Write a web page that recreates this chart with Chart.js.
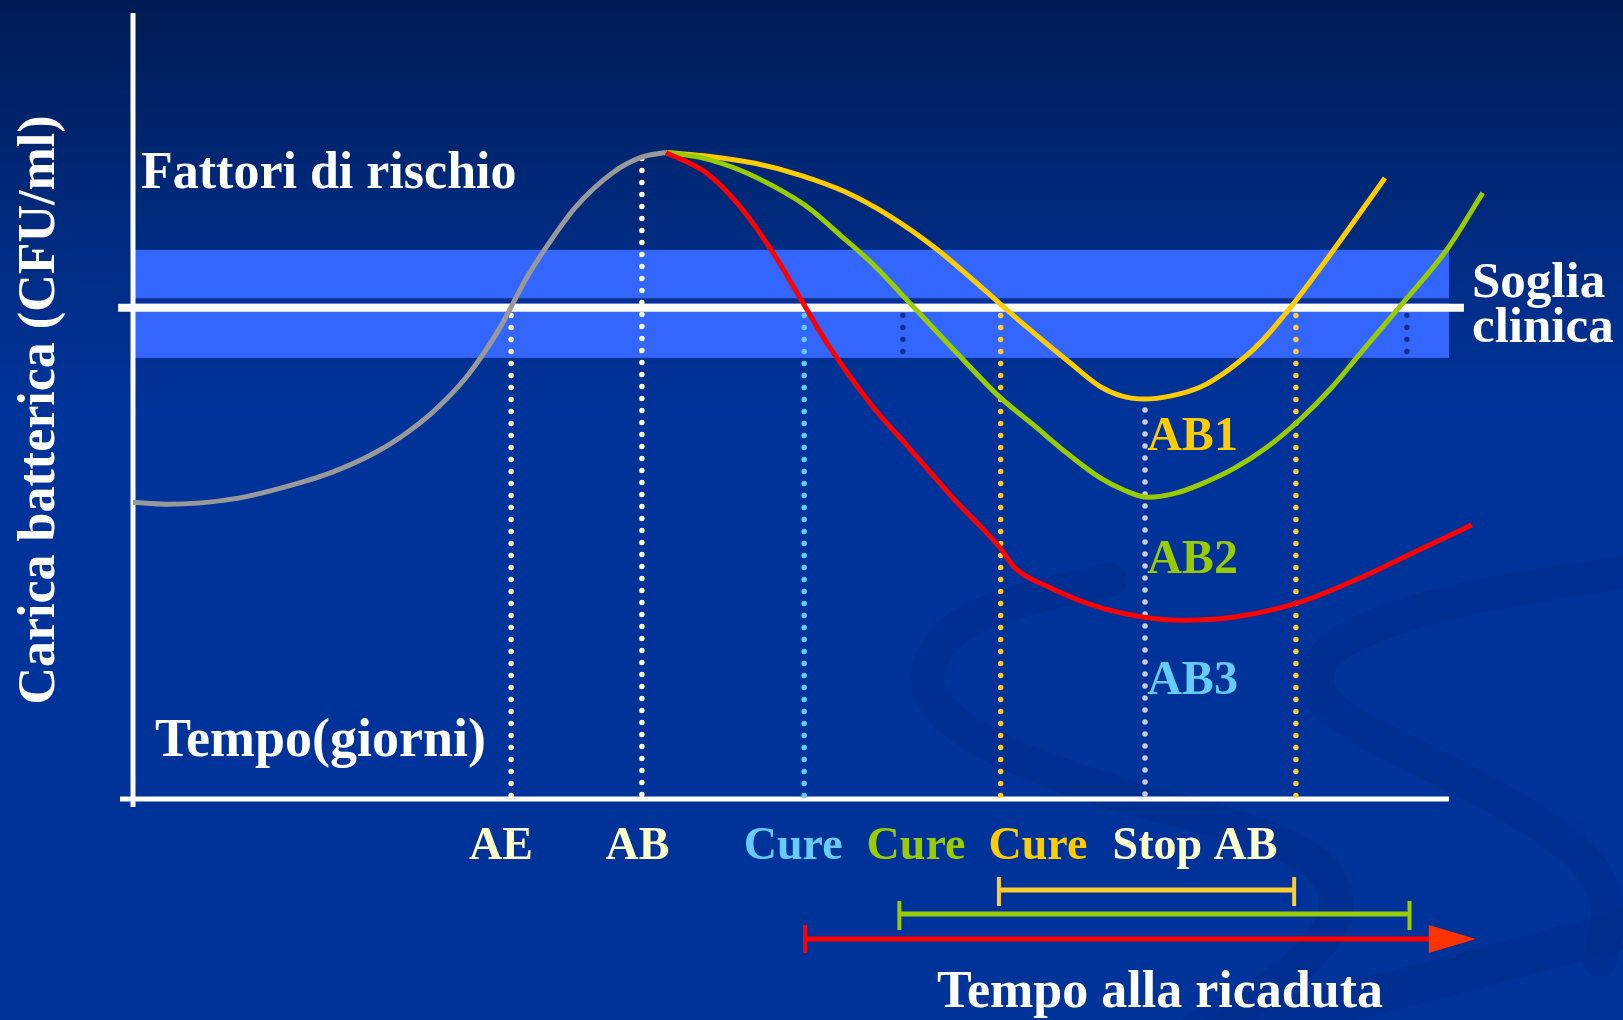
<!DOCTYPE html>
<html lang="it">
<head>
<meta charset="UTF-8">
<title>Carica batterica • Tempo alla ricaduta</title>
<script src="https://cdn.jsdelivr.net/npm/chart.js"></script>
<style>
  html, body { margin: 0; padding: 0; background: #003399; }
  canvas { display: block; }
</style>
</head>
<body>
<canvas id="chart" width="1623" height="1020"></canvas>
<script>
  // x = tempo (giorni), y = carica batterica (log CFU/ml)
  const grayX   = [0, 0.75, 2.37, 3.81, 4.56, 5.33, 6.09, 6.84, 7.61, 8.37, 8.98, 9.69, 10.10, 10.92, 11.58, 12.15];
  const grayY   = [3.02, 3.00, 3.06, 3.22, 3.33, 3.48, 3.68, 3.94, 4.30, 4.80, 5.31, 5.79, 6.03, 6.37, 6.53, 6.58];
  const redX    = [12.15, 13.08, 13.84, 14.59, 15.27, 15.82, 16.87, 17.64, 18.74, 19.76, 20.11, 20.86, 22.11, 23.89, 25.08, 26.51, 28.02, 29.29, 30.52];
  const redY    = [6.58, 6.37, 6.03, 5.56, 5.05, 4.64, 3.99, 3.60, 3.04, 2.56, 2.35, 2.16, 1.94, 1.82, 1.85, 1.99, 2.26, 2.53, 2.79];
  const greenX  = [12.15, 12.93, 13.84, 14.63, 15.36, 16.12, 16.92, 17.64, 18.78, 19.76, 20.52, 21.29, 22.04, 22.61, 23.14, 23.75, 24.32, 25.08, 25.85, 26.60, 27.29, 27.97, 28.95, 29.95, 30.77];
  const greenY  = [6.58, 6.53, 6.40, 6.23, 6.03, 5.74, 5.42, 5.08, 4.54, 4.09, 3.81, 3.52, 3.27, 3.14, 3.07, 3.11, 3.20, 3.36, 3.58, 3.86, 4.17, 4.53, 5.05, 5.59, 6.17];
  const yellowX = [12.15, 13.15, 14.18, 15.20, 16.23, 17.26, 18.28, 19.31, 20.33, 21.36, 22.04, 22.55, 23.07, 23.64, 24.32, 25.01, 25.69, 26.38, 27.06, 27.74, 28.54];
  const yellowY = [6.58, 6.54, 6.47, 6.35, 6.18, 5.93, 5.61, 5.22, 4.82, 4.44, 4.20, 4.10, 4.07, 4.10, 4.19, 4.38, 4.64, 5.00, 5.40, 5.82, 6.32];

  // soglia clinica
  const soglia = 5.0;
  const sogliaBand = [4.49, 5.59];

  // vertical dotted markers: x, top, bottom
  const markerX      = [8.62, 11.60, 15.30, 17.55, 19.78, 23.07, 26.51, 29.04];
  const markerTop    = [4.92, 6.52, 4.92, 4.92, 4.92, 3.96, 4.92, 4.92];
  const markerBottom = [0, 0, 0, 4.49, 0, 0, 0, 4.49];
  const markerColors = ['#ffffcc', '#ffffcc', '#66ccff', '#0c2f8c', '#ffcc33', '#ccccdd', '#ffcc33', '#0c2f8c'];

  // labels under the time axis
  const eventLabels  = ['AE', 'AB', 'Cure', 'Cure', 'Cure', 'Stop AB'];
  const eventLabelX  = [8.39, 11.50, 15.05, 17.85, 20.63, 24.21];
  const eventColors  = ['#ffffcc', '#ffffcc', '#66ccff', '#99cc00', '#ffcc00', '#ffffcc'];

  // antibiotic curve labels
  const abLabels = ['AB1', 'AB2', 'AB3'];
  const abLabelX = 23.12;
  const abLabelY = [3.55, 2.30, 1.07];
  const abColors = ['#ffcc00', '#99cc00', '#66ccff'];

  // time-to-relapse intervals (yellow, green, red)
  const relapseStart = [19.74, 17.47, 15.32];
  const relapseEnd   = [26.47, 29.10, 30.61];

  const toPoints = (xs, ys) => xs.map((x, i) => ({ x, y: ys[i] }));

  const curve = (label, xs, ys, color) => ({
    label, data: toPoints(xs, ys), borderColor: color, borderWidth: 5,
    pointRadius: 0, cubicInterpolationMode: 'monotone', clip: false, order: 1
  });

  const markers = markerX.map((x, i) => ({
    label: 'marker' + i,
    data: [{ x, y: markerTop[i] }, { x, y: markerBottom[i] }],
    borderColor: markerColors[i], borderWidth: 5.5,
    borderDash: [0, 12], borderCapStyle: 'round',
    pointRadius: 0, tension: 0, clip: false, order: 2
  }));

  const serif = '"Liberation Serif", "Times New Roman", serif';

  function ribbon(ctx, pts, width) {
    ctx.beginPath();
    ctx.moveTo(pts[0][0], pts[0][1]);
    for (let i = 1; i < pts.length - 1; i++) {
      const mx = (pts[i][0] + pts[i + 1][0]) / 2, my = (pts[i][1] + pts[i + 1][1]) / 2;
      ctx.quadraticCurveTo(pts[i][0], pts[i][1], mx, my);
    }
    const last = pts[pts.length - 1];
    ctx.lineTo(last[0], last[1]);
    ctx.lineWidth = width;
    ctx.stroke();
  }

  const slidePlugin = {
    id: 'slide',
    beforeDraw(chart) {
      const ctx = chart.ctx, w = chart.width, h = chart.height;
      const g = ctx.createLinearGradient(0, 0, 0, h);
      g.addColorStop(0, '#001a52');
      g.addColorStop(0.18, '#002878');
      g.addColorStop(0.4, '#003399');
      g.addColorStop(1, '#003399');
      ctx.save();
      ctx.fillStyle = g;
      ctx.fillRect(0, 0, w, h);
      // faint swirl in the background
      ctx.strokeStyle = 'rgba(0, 25, 95, 0.12)';
      ctx.lineCap = 'round';
      ribbon(ctx, [[1110, 580], [975, 607], [925, 660], [930, 705], [990, 748], [1100, 790], [1245, 828], [1320, 860], [1345, 910], [1295, 975], [1195, 1030]], 34);
      ribbon(ctx, [[1640, 570], [1500, 590], [1392, 617], [1323, 650], [1313, 690], [1343, 720], [1417, 757], [1516, 807], [1590, 860], [1612, 910], [1600, 960]], 34);
      ribbon(ctx, [[1230, 1030], [1400, 990], [1640, 925]], 40);
      ctx.restore();
    },
    beforeDatasetsDraw(chart) {
      const ctx = chart.ctx, xs = chart.scales.x, ys = chart.scales.y;
      const x0 = xs.getPixelForValue(0), x1 = xs.getPixelForValue(30);
      const yBottom = ys.getPixelForValue(0), yTop = ys.getPixelForValue(8);
      const yS = ys.getPixelForValue(soglia);
      ctx.save();
      // soglia band
      ctx.fillStyle = '#3366ff';
      const bTop = ys.getPixelForValue(sogliaBand[1]), bBot = ys.getPixelForValue(sogliaBand[0]);
      ctx.fillRect(x0 + 2, bTop, x1 - x0 - 2, bBot - bTop);
      ctx.fillStyle = '#0a2f8f';
      ctx.fillRect(x0 + 2, yS - 9.5, x1 - x0 - 2, 5);
      // soglia line
      ctx.strokeStyle = '#ffffff';
      ctx.lineWidth = 8;
      ctx.beginPath();
      ctx.moveTo(xs.getPixelForValue(-0.34), yS);
      ctx.lineTo(xs.getPixelForValue(30.34), yS);
      ctx.stroke();
      // axes
      ctx.lineWidth = 5;
      ctx.beginPath();
      ctx.moveTo(x0, yTop);
      ctx.lineTo(x0, yBottom + 8);
      ctx.moveTo(x0 - 13, yBottom);
      ctx.lineTo(x1, yBottom);
      ctx.stroke();
      ctx.restore();
    },
    afterDatasetsDraw(chart) {
      const ctx = chart.ctx, xs = chart.scales.x, ys = chart.scales.y;
      const yAxis = ys.getPixelForValue(0);
      ctx.save();

      // y title
      ctx.fillStyle = '#ffffff';
      ctx.font = 'bold 52px ' + serif;
      ctx.textAlign = 'center';
      ctx.textBaseline = 'alphabetic';
      ctx.translate(54, 410);
      ctx.rotate(-Math.PI / 2);
      ctx.fillText('Carica batterica (CFU/ml)', 0, 0);
      ctx.setTransform(1, 0, 0, 1, 0, 0);

      // plain texts
      ctx.textAlign = 'left';
      ctx.font = 'bold 52px ' + serif;
      ctx.fillText('Fattori di rischio', 141, 188);
      ctx.font = 'bold 54px ' + serif;
      ctx.fillText('Tempo(giorni)', 155, 756);
      ctx.font = 'bold 51px ' + serif;
      ctx.fillText('Soglia', 1472, 297);
      ctx.fillText('clinica', 1472, 342);
      ctx.font = 'bold 52px ' + serif;
      ctx.textAlign = 'center';
      ctx.fillText('Tempo alla ricaduta', 1160, 1007);

      // events under axis
      ctx.font = 'bold 46px ' + serif;
      eventLabels.forEach((t, i) => {
        ctx.fillStyle = eventColors[i];
        ctx.fillText(t, xs.getPixelForValue(eventLabelX[i]), yAxis + 60);
      });

      // AB labels
      ctx.textAlign = 'left';
      ctx.font = 'bold 48px ' + serif;
      abLabels.forEach((t, i) => {
        ctx.fillStyle = abColors[i];
        ctx.fillText(t, xs.getPixelForValue(abLabelX), ys.getPixelForValue(abLabelY[i]));
      });

      // relapse intervals
      const rowY = [yAxis + 91, yAxis + 115, yAxis + 140];
      const rowColors = ['#ffcc33', '#99cc00', '#ff0000'];
      ctx.lineCap = 'butt';
      for (let i = 0; i < 2; i++) {
        const a = xs.getPixelForValue(relapseStart[i]), b = xs.getPixelForValue(relapseEnd[i]);
        ctx.strokeStyle = rowColors[i];
        ctx.lineWidth = 5;
        ctx.beginPath();
        ctx.moveTo(a, rowY[i]);
        ctx.lineTo(b, rowY[i]);
        ctx.stroke();
        ctx.lineWidth = 4;
        ctx.beginPath();
        ctx.moveTo(a, rowY[i] - 13);
        ctx.lineTo(a, rowY[i] + 16);
        ctx.moveTo(b, rowY[i] - 13);
        ctx.lineTo(b, rowY[i] + 16);
        ctx.stroke();
      }
      const ra = xs.getPixelForValue(relapseStart[2]), rb = xs.getPixelForValue(relapseEnd[2]);
      const headBase = rb - 47;
      ctx.strokeStyle = '#ff0000';
      ctx.lineWidth = 5;
      ctx.beginPath();
      ctx.moveTo(ra, rowY[2]);
      ctx.lineTo(headBase + 2, rowY[2]);
      ctx.stroke();
      ctx.lineWidth = 4;
      ctx.beginPath();
      ctx.moveTo(ra, rowY[2] - 14);
      ctx.lineTo(ra, rowY[2] + 14);
      ctx.stroke();
      ctx.fillStyle = '#ff3300';
      ctx.beginPath();
      ctx.moveTo(headBase, rowY[2] - 14);
      ctx.lineTo(rb, rowY[2]);
      ctx.lineTo(headBase, rowY[2] + 14);
      ctx.closePath();
      ctx.fill();

      ctx.restore();
    }
  };

  new Chart(document.getElementById('chart'), {
    type: 'line',
    data: {
      datasets: [
        curve('AB3', redX, redY, '#ff0000'),
        curve('AB2', greenX, greenY, '#99cc00'),
        curve('AB1', yellowX, yellowY, '#ffcc00'),
        curve('Fattori di rischio', grayX, grayY, '#999999'),
        ...markers
      ]
    },
    options: {
      responsive: false,
      animation: false,
      layout: { padding: { left: 133, right: 174, top: 13, bottom: 221 } },
      scales: {
        x: { type: 'linear', min: 0, max: 30, display: false },
        y: { type: 'linear', min: 0, max: 8, display: false }
      },
      plugins: { legend: { display: false }, tooltip: { enabled: false } }
    },
    plugins: [slidePlugin]
  });
</script>
</body>
</html>
